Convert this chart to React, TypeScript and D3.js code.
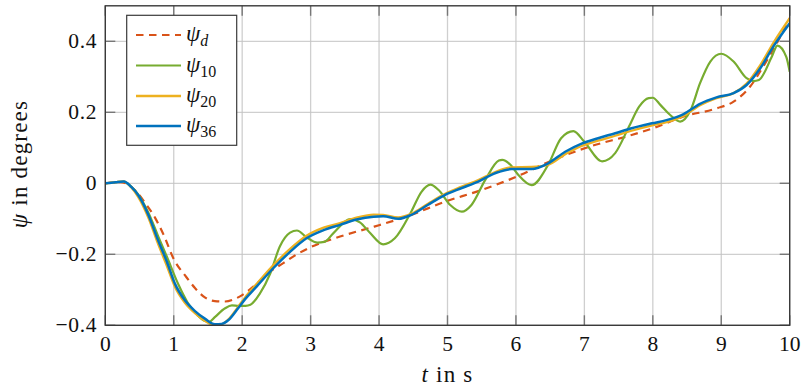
import React from 'react';
import * as d3 from 'd3';

const xTicks = [0, 1, 2, 3, 4, 5, 6, 7, 8, 9, 10];
const yTicks = [-0.4, -0.2, 0, 0.2, 0.4];
const yTickLabels = ['−0.4', '−0.2', '0', '0.2', '0.4'];

const tD = [0, 0.2, 0.3, 0.43, 0.6, 0.73, 0.84, 1.02, 1.16, 1.31, 1.46, 1.6, 1.75, 1.9, 2.0, 2.2, 2.4, 2.6, 2.8, 3.0, 3.43, 3.93, 4.47, 4.96, 5.45, 6.0, 6.5, 7.07, 7.69, 8.0, 8.45, 8.93, 9.18, 9.42, 9.61, 9.81, 10];
const psiD = [0, 0.003, 0.0, -0.019, -0.06, -0.098, -0.14, -0.221, -0.258, -0.295, -0.322, -0.332, -0.333, -0.325, -0.315, -0.285, -0.25, -0.225, -0.2, -0.18, -0.15, -0.122, -0.089, -0.052, -0.022, 0.018, 0.062, 0.103, 0.136, 0.155, 0.188, 0.211, 0.23, 0.272, 0.328, 0.394, 0.465];

const tS = [0, 0.15, 0.27, 0.38, 0.48, 0.63, 0.77, 0.9, 1.02, 1.16, 1.31, 1.46, 1.6, 1.7, 1.8, 1.94, 2.04, 2.21, 2.45, 2.7, 2.94, 3.19, 3.43, 3.67, 3.92, 4.06, 4.28, 4.47, 4.71, 4.96, 5.2, 5.45, 5.69, 5.93, 6.23, 6.47, 6.72, 6.96, 7.2, 7.45, 7.69, 7.99, 8.2, 8.45, 8.69, 8.93, 9.18, 9.37, 9.57, 9.76, 10];
const psi36 = [0, 0.003, 0.005, -0.01, -0.033, -0.089, -0.16, -0.221, -0.284, -0.329, -0.36, -0.382, -0.397, -0.396, -0.385, -0.352, -0.327, -0.291, -0.24, -0.193, -0.155, -0.132, -0.117, -0.102, -0.094, -0.093, -0.1, -0.089, -0.061, -0.033, -0.014, 0.005, 0.028, 0.04, 0.04, 0.056, 0.089, 0.112, 0.127, 0.141, 0.155, 0.169, 0.178, 0.195, 0.224, 0.242, 0.254, 0.277, 0.324, 0.385, 0.451];
const psi20 = [0, 0.003, 0.005, -0.012, -0.038, -0.097, -0.17, -0.233, -0.293, -0.336, -0.366, -0.388, -0.4, -0.397, -0.383, -0.348, -0.322, -0.284, -0.232, -0.185, -0.148, -0.125, -0.112, -0.097, -0.088, -0.089, -0.096, -0.086, -0.058, -0.03, -0.01, 0.009, 0.031, 0.045, 0.046, 0.052, 0.082, 0.105, 0.12, 0.134, 0.148, 0.163, 0.172, 0.19, 0.22, 0.24, 0.254, 0.281, 0.333, 0.395, 0.465];

const t10 = [0, 0.15, 0.27, 0.38, 0.48, 0.63, 0.77, 0.9, 1.07, 1.2, 1.35, 1.46, 1.52, 1.6, 1.75, 1.85, 1.95, 2.05, 2.12, 2.26, 2.41, 2.55, 2.7, 2.8, 2.94, 3.1, 3.2, 3.33, 3.58, 3.72, 3.87, 4.06, 4.23, 4.47, 4.62, 4.75, 4.87, 5.04, 5.21, 5.35, 5.55, 5.75, 5.8, 5.93, 6.03, 6.23, 6.47, 6.66, 6.84, 7.0, 7.26, 7.45, 7.65, 7.8, 7.94, 8.0, 8.11, 8.25, 8.4, 8.55, 8.69, 8.84, 9.0, 9.18, 9.37, 9.47, 9.55, 9.74, 9.82, 9.95, 10];
const psi10 = [0, 0.003, 0.005, -0.01, -0.031, -0.083, -0.148, -0.207, -0.286, -0.335, -0.372, -0.388, -0.39, -0.377, -0.352, -0.344, -0.345, -0.345, -0.342, -0.31, -0.254, -0.178, -0.139, -0.133, -0.152, -0.167, -0.165, -0.141, -0.101, -0.11, -0.14, -0.172, -0.155, -0.08, -0.024, -0.004, -0.019, -0.061, -0.08, -0.061, 0.009, 0.064, 0.066, 0.05, 0.025, -0.005, 0.052, 0.127, 0.147, 0.117, 0.062, 0.085, 0.159, 0.216, 0.24, 0.241, 0.221, 0.193, 0.174, 0.205, 0.282, 0.343, 0.365, 0.343, 0.296, 0.288, 0.291, 0.357, 0.388, 0.356, 0.314];

const series = [
  { key: 'd', t: tD, v: psiD, color: '#D95319', dash: '7.5,5.5', width: 2.2 },
  { key: '10', t: t10, v: psi10, color: '#77AC30', dash: null, width: 2.2 },
  { key: '20', t: tS, v: psi20, color: '#EDB120', dash: null, width: 2.3 },
  { key: '36', t: tS, v: psi36, color: '#0072BD', dash: null, width: 2.5 },
];

const W = 807, H = 390;
const L = 105.3, R = 789.7, T = 5.8, B = 325.3;
const FONT = "'Liberation Serif', 'DejaVu Serif', serif";

export default function App() {
  const x = d3.scaleLinear().domain([0, 10]).range([L, R]);
  const y = d3.scaleLinear().domain([-0.4, 0.5]).range([B, T]);
  const line = d3.line<[number, number]>().x(d => x(d[0])).y(d => y(d[1])).curve(d3.curveMonotoneX);

  const legendX = 126.7, legendY = 15.3, legendW = 110, legendH = 130;
  const rowY = [35, 65.5, 96, 126];

  return (
    <svg width={W} height={H} style={{ position: 'absolute', left: 0, top: 0, background: '#fff', fontFamily: FONT }}>
      <defs>
        <clipPath id="plot"><rect x={L} y={T} width={R - L} height={B - T} /></clipPath>
      </defs>
      {xTicks.map(t => (
        <line key={'gx' + t} x1={x(t)} x2={x(t)} y1={T} y2={B} stroke="#cfcfcf" strokeWidth={1.3} />
      ))}
      {yTicks.map(v => (
        <line key={'gy' + v} x1={L} x2={R} y1={y(v)} y2={y(v)} stroke="#c4c4c4" strokeWidth={1} />
      ))}
      {xTicks.map(t => (
        <g key={'tx' + t}>
          <line x1={x(t)} x2={x(t)} y1={B} y2={B - 10} stroke="#777" strokeWidth={1.4} />
          <line x1={x(t)} x2={x(t)} y1={T} y2={T + 10} stroke="#777" strokeWidth={1.4} />
        </g>
      ))}
      {yTicks.map(v => (
        <g key={'ty' + v}>
          <line x1={L} x2={L + 10} y1={y(v)} y2={y(v)} stroke="#777" strokeWidth={1.4} />
          <line x1={R} x2={R - 10} y1={y(v)} y2={y(v)} stroke="#777" strokeWidth={1.4} />
        </g>
      ))}
      <g clipPath="url(#plot)">
        {series.map(s => (
          <path key={s.key} d={line(s.t.map((t, i) => [t, s.v[i]] as [number, number])) || ''}
            fill="none" stroke={s.color} strokeWidth={s.width} strokeDasharray={s.dash || undefined} strokeLinejoin="round" />
        ))}
      </g>
      <rect x={L} y={T} width={R - L} height={B - T} fill="none" stroke="#3a3a3a" strokeWidth={1.4} />
      {xTicks.map(t => (
        <text key={'lx' + t} x={x(t)} y={350.5} textAnchor="middle" fontSize={21.5} fill="#111">{t}</text>
      ))}
      {yTicks.map((v, i) => (
        <text key={'ly' + v} x={97} y={y(v) + 7} textAnchor="end" fontSize={21.5} letterSpacing={0.6} fill="#111">{yTickLabels[i]}</text>
      ))}
      <text x={(L + R) / 2} y={381.5} textAnchor="middle" fontSize={23} letterSpacing={1.2} fill="#111">
        <tspan fontStyle="italic">t</tspan> in s
      </text>
      <text transform={`translate(26.5, 164) rotate(-90)`} textAnchor="middle" fontSize={23} letterSpacing={1.2} fill="#111">
        <tspan fontStyle="italic">ψ</tspan> in degrees
      </text>
      <rect x={legendX} y={legendY} width={legendW} height={legendH} fill="#fff" stroke="#3a3a3a" strokeWidth={1.2} />
      {series.map((s, i) => (
        <g key={'lg' + s.key}>
          <line x1={136} x2={181} y1={rowY[i]} y2={rowY[i]} stroke={s.color} strokeWidth={s.width} strokeDasharray={s.dash || undefined} />
          <text x={186} y={rowY[i] + 6} fontSize={23} fill="#111">
            <tspan fontStyle="italic">ψ</tspan>
            <tspan fontSize={16} dy={5} fontStyle={s.key === 'd' ? 'italic' : 'normal'}>{s.key}</tspan>
          </text>
        </g>
      ))}
    </svg>
  );
}
